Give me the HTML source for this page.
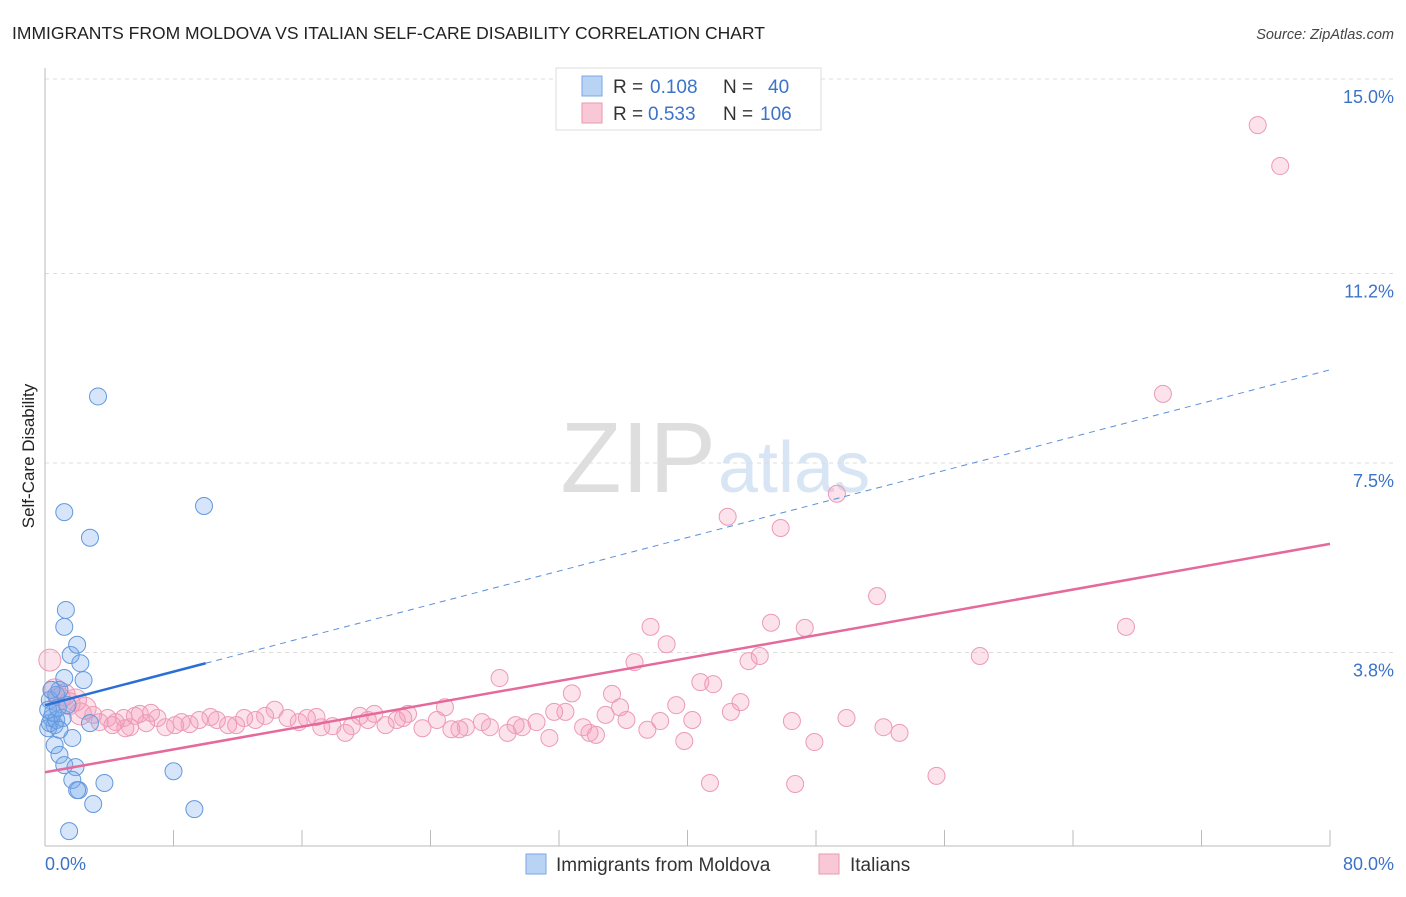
<!DOCTYPE html>
<html><head><meta charset="utf-8"><style>
body{margin:0;background:#fff;font-family:"Liberation Sans",sans-serif}
svg text{font-family:"Liberation Sans",sans-serif}
</style></head><body>
<svg id="c" width="1406" height="892" xmlns="http://www.w3.org/2000/svg">
<text x="12" y="39" font-size="17.5" fill="#222">IMMIGRANTS FROM MOLDOVA VS ITALIAN SELF-CARE DISABILITY CORRELATION CHART</text>
<text x="1394" y="39" font-size="14.5" fill="#444" font-style="italic" text-anchor="end">Source: ZipAtlas.com</text>
<text x="716" y="492" font-size="100" fill="#dedede" text-anchor="end" font-family="Liberation Serif">ZIP</text>
<text x="718" y="492" font-size="72" fill="#d8e5f4">atlas</text>
<g id="grid"></g>
<g id="axes"></g>
<g id="pts"></g>
<g id="lines"></g>
<text transform="translate(34,456) rotate(-90)" font-size="17" fill="#222" text-anchor="middle">Self-Care Disability</text>
<text x="45" y="870" font-size="18" fill="#3b73c9">0.0%</text>
<text x="1394" y="870" font-size="18" fill="#3b73c9" text-anchor="end">80.0%</text>
<g>
<rect x="556" y="68" width="265" height="62" fill="#fff" stroke="#ddd"/>
<rect x="582" y="76" width="20" height="20" fill="#b9d3f5" stroke="#7aa7e3"/>
<rect x="582" y="103" width="20" height="20" fill="#f9c8d7" stroke="#e89ab3"/>
<text x="613" y="93" font-size="19" fill="#333">R =</text>
<text x="650" y="93" font-size="19" fill="#3b73c9">0.108</text>
<text x="723" y="93" font-size="19" fill="#333">N =</text>
<text x="768" y="93" font-size="19" fill="#3b73c9">40</text>
<text x="613" y="120" font-size="19" fill="#333">R =</text>
<text x="648" y="120" font-size="19" fill="#3b73c9">0.533</text>
<text x="723" y="120" font-size="19" fill="#333">N =</text>
<text x="760" y="120" font-size="19" fill="#3b73c9">106</text>
</g>
<g>
<rect x="526" y="854" width="20" height="20" fill="#b9d3f5" stroke="#7aa7e3"/>
<text x="556" y="871" font-size="19" fill="#333">Immigrants from Moldova</text>
<rect x="819" y="854" width="20" height="20" fill="#f9c8d7" stroke="#e89ab3"/>
<text x="850" y="871" font-size="19" fill="#333">Italians</text>
</g>
</svg>
<script>
const yTicks=[3.8,7.5,11.2,15.0];
const yTickLabels=["3.8%","7.5%","11.2%","15.0%"];
const xTicks=[0,8,16,24,32,40,48,56,64,72,80];
const blueX=[0.6,0.4,0.2,0.3,0.7,0.9,1.2,1.6,2.0,2.2,2.4,1.3,1.2,1.2,2.8,3.3,9.9,0.6,0.9,1.2,1.7,1.9,2.1,1.7,2.0,3.0,3.7,1.5,8.0,9.3,0.3,0.5,0.7,1.1,0.2,0.8,1.4,2.8,0.4,0.9];
const blueY=[2.38,2.52,2.32,2.87,2.97,3.07,3.3,3.75,3.95,3.59,3.26,4.63,4.3,6.54,6.04,8.8,6.66,1.99,1.8,1.6,2.13,1.56,1.11,1.31,1.11,0.84,1.25,0.31,1.48,0.74,2.42,2.62,2.48,2.52,2.68,2.72,2.77,2.42,3.07,2.29];
const pinkX=[75.5,76.9,69.6,49.3,42.5,45.8,51.8,45.2,47.3,37.7,38.7,36.7,43.8,44.5,58.2,67.3,40.8,41.6,43.3,42.7,32.8,35.3,35.8,28.3,24.9,32.4,31.7,34.9,36.2,38.3,39.3,40.3,37.5,39.8,47.9,46.5,49.9,52.2,53.2,41.4,46.7,55.5,33.9,34.3,33.5,31.4,30.6,29.7,29.3,28.8,27.7,27.2,26.2,25.8,25.3,24.4,23.5,22.6,22.3,21.9,21.2,20.5,20.1,19.6,19.1,18.7,17.9,17.2,16.9,16.3,15.8,15.1,14.3,13.7,13.1,12.4,11.9,11.4,10.7,10.3,9.6,9.0,8.5,8.1,7.5,7.0,6.3,5.9,5.3,4.9,4.4,3.9,3.4,3.0,2.5,1.9,1.2,0.6,0.3,5.0,6.6,2.2,1.5,4.2,0.9,5.6];
const pinkY=[14.1,13.3,8.85,6.9,6.45,6.23,4.9,4.38,4.28,4.3,3.96,3.61,3.63,3.73,3.73,4.3,3.22,3.18,2.83,2.64,3.0,2.99,2.73,3.3,2.73,2.64,2.64,2.58,2.48,2.46,2.77,2.48,2.29,2.07,2.05,2.46,2.52,2.34,2.23,1.25,1.23,1.39,2.23,2.19,2.34,2.13,2.44,2.34,2.38,2.23,2.34,2.44,2.34,2.3,2.3,2.48,2.32,2.6,2.52,2.48,2.38,2.6,2.48,2.56,2.36,2.23,2.36,2.34,2.54,2.52,2.44,2.52,2.68,2.56,2.48,2.52,2.38,2.38,2.48,2.54,2.48,2.4,2.44,2.38,2.34,2.52,2.42,2.6,2.34,2.52,2.44,2.52,2.44,2.58,2.71,2.87,2.97,3.07,3.65,2.32,2.62,2.6,2.8,2.38,2.9,2.56];
const blueTrend=[2.77,9.32];
const blueSolidEnd=10;
const pinkTrend=[1.46,5.92];
const NS="http://www.w3.org/2000/svg";
const X=v=>45+v*(1285/80), Y=v=>847-v*51.2;
function mk(t,a,p){const e=document.createElementNS(NS,t);for(const k in a)e.setAttribute(k,a[k]);document.getElementById(p).appendChild(e);return e;}
yTicks.forEach((v,i)=>{
 const l=mk('line',{x1:45,x2:1394,y1:Y(v),y2:Y(v),stroke:'#ddd','stroke-dasharray':'4,4'},'grid');
 
 
 const t=mk('text',{x:1394,y:Y(v)+24,'font-size':18,fill:'#3b73c9','text-anchor':'end'},'grid');
 t.textContent=yTickLabels[i];
 
 
});
const ya=mk('line',{x1:45,x2:45,y1:68,y2:846,stroke:'#bbb'},'axes');


const xa=mk('line',{x1:45,x2:1330,y1:846,y2:846,stroke:'#bbb'},'axes');


xTicks.forEach(v=>{
 const t=mk('line',{x1:X(v),x2:X(v),y1:830,y2:846,stroke:'#bbb'},'axes');
 
 
});
pinkX.forEach((v,i)=>{
 const r=(v<3)?11:8.5;
 const c=mk('circle',{cx:X(v),cy:Y(pinkY[i]),r:r,fill:'rgba(244,160,188,0.3)',stroke:'#ec9ab6','stroke-width':1},'pts');
 
 
});
blueX.forEach((v,i)=>{
 const c=mk('circle',{cx:X(v),cy:Y(blueY[i]),r:8.5,fill:'rgba(120,170,235,0.3)',stroke:'#6298dd','stroke-width':1},'pts');
 
 
});
const by=x=>blueTrend[0]+(blueTrend[1]-blueTrend[0])*x/80;
const b1=mk('line',{x1:X(0),y1:Y(by(0)),x2:X(blueSolidEnd),y2:Y(by(blueSolidEnd)),stroke:'#2a6fd6','stroke-width':2.5},'lines');


const b2=mk('line',{x1:X(blueSolidEnd),y1:Y(by(blueSolidEnd)),x2:X(80),y2:Y(by(80)),stroke:'#5b8fd9','stroke-width':1,'stroke-dasharray':'6,5'},'lines');


const p1=mk('line',{x1:X(0),y1:Y(pinkTrend[0]),x2:X(80),y2:Y(pinkTrend[1]),stroke:'#e5699a','stroke-width':2.5},'lines');


</script>
</body></html>
